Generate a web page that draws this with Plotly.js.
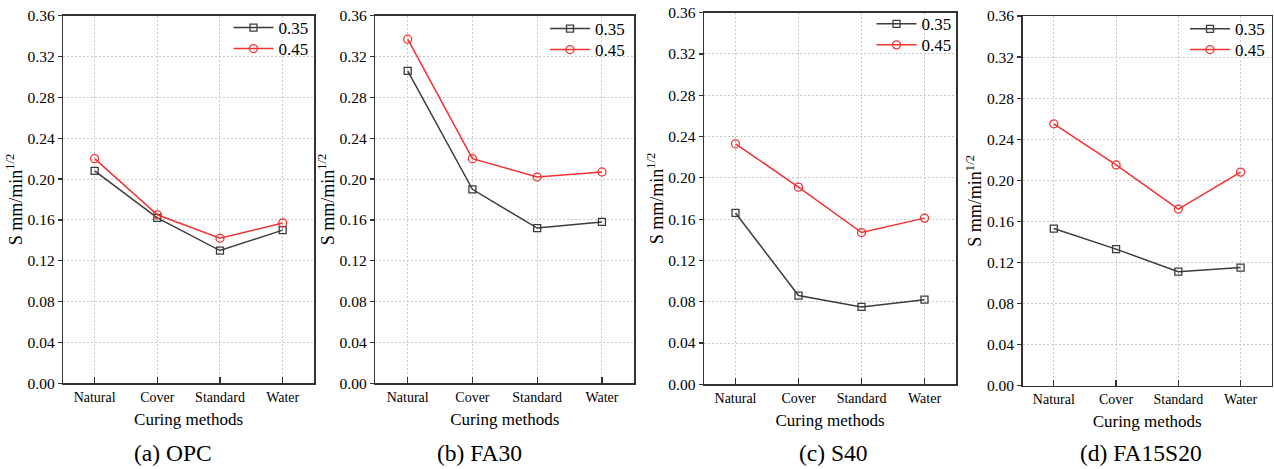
<!DOCTYPE html>
<html>
<head>
<meta charset="utf-8">
<script src="https://cdn.plot.ly/plotly-3.0.1.min.js"></script>
<style>html,body{margin:0;padding:0;background:#fff;}#chart{width:1274px;height:469px;}</style>
</head>
<body>
<div id="chart"></div>
<script>
const categories = ["Natural", "Cover", "Standard", "Water"];
const seriesNames = ["0.35", "0.45"];
const panelTitles = ["(a) OPC", "(b) FA30", "(c) S40", "(d) FA15S20"];
const yTickVals = [0, 0.04, 0.08, 0.12, 0.16, 0.20, 0.24, 0.28, 0.32, 0.36];
const yTickText = ["0.00", "0.04", "0.08", "0.12", "0.16", "0.20", "0.24", "0.28", "0.32", "0.36"];

const opc_035 = [0.208, 0.162, 0.130, 0.150];
const opc_045 = [0.220, 0.165, 0.142, 0.157];
const fa30_035 = [0.306, 0.190, 0.152, 0.158];
const fa30_045 = [0.337, 0.220, 0.202, 0.207];
const s40_035 = [0.166, 0.086, 0.075, 0.082];
const s40_045 = [0.233, 0.191, 0.147, 0.161];
const fa15s20_035 = [0.153, 0.133, 0.111, 0.115];
const fa15s20_045 = [0.255, 0.215, 0.172, 0.208];

const panels = [[opc_035, opc_045], [fa30_035, fa30_045], [s40_035, s40_045], [fa15s20_035, fa15s20_045]];

const W = 1274, H = 469;
// pixel boxes [left, right, top, bottom]
const boxes = [[63.3, 314, 15.7, 383.3], [375.3, 634.3, 15.7, 383.3], [704, 956, 12.7, 384.3], [1022.7, 1271.7, 16, 385.7]];
const captionX = [173, 479, 833, 1141];
const legendRight = [313.5, 630, 956.5, 1270];
const legendRowY = [[28, 49], [29, 50], [24.3, 45.3], [29.3, 50]];

const FONT = "Liberation Serif";
const colors = ["#3c3c3c", "#f03232"];
const symbols = ["square-open", "circle-open"];
const msize = [7, 8];

const traces = [];
const layout = {
  width: W, height: H,
  margin: {l: 0, r: 0, t: 0, b: 0},
  paper_bgcolor: "#fff", plot_bgcolor: "#fff",
  font: {family: FONT, color: "#000"},
  showlegend: true,
  annotations: []
};

panels.forEach((pair, i) => {
  const n = i === 0 ? "" : String(i + 1);
  const xa = "x" + n, ya = "y" + n;
  pair.forEach((vals, j) => {
    const k = i * 2 + j + 1;
    const legendId = k === 1 ? "legend" : "legend" + k;
    traces.push({
      type: "scatter", mode: "lines+markers",
      x: categories, y: vals, name: seriesNames[j],
      xaxis: xa, yaxis: ya, legend: legendId,
      line: {color: colors[j], width: 1.5},
      marker: {symbol: symbols[j], size: msize[j], color: colors[j], line: {width: 1.3, color: colors[j]}},
      cliponaxis: false
    });
    layout[legendId] = {
      x: legendRight[i] / W, xanchor: "right",
      y: 1 - legendRowY[i][j] / H, yanchor: "middle",
      bgcolor: "rgba(0,0,0,0)", borderwidth: 0,
      font: {family: FONT, size: 17, color: "#000"},
      itemwidth: 40
    };
  });
  const b = boxes[i];
  layout["xaxis" + n] = {
    domain: [b[0] / W, b[1] / W], anchor: ya,
    type: "category", range: [-0.5, 3.5],
    showline: true, linecolor: "#333", linewidth: 1.5, mirror: true,
    ticks: "inside", ticklen: 6, tickwidth: 1.2, tickcolor: "#333",
    showgrid: true, gridcolor: "#c8c8c8", griddash: "2px,2px", gridwidth: 1,
    tickfont: {family: FONT, size: 14, color: "#000"},
    title: {text: "Curing methods", font: {family: FONT, size: 17, color: "#000"}, standoff: 9},
    automargin: false, zeroline: false, fixedrange: true
  };
  layout["yaxis" + n] = {
    domain: [1 - b[3] / H, 1 - b[2] / H], anchor: xa,
    range: [0, 0.36], tickvals: yTickVals, ticktext: yTickText,
    showline: true, linecolor: "#333", linewidth: 1.5, mirror: true,
    ticks: "outside", ticklen: 4, tickwidth: 1.2, tickcolor: "#333",
    showgrid: true, gridcolor: "#c8c8c8", griddash: "2px,2px", gridwidth: 1,
    tickfont: {family: FONT, size: 15.5, color: "#000"},
    title: {text: "S mm/min<sup>1/2</sup>", font: {family: FONT, size: 18, color: "#000"}, standoff: 0},
    automargin: false, zeroline: false, fixedrange: true
  };
  layout.annotations.push({
    text: panelTitles[i], x: captionX[i] / W, y: 1 - 453 / H,
    xref: "paper", yref: "paper", xanchor: "center", yanchor: "middle",
    showarrow: false, font: {family: FONT, size: 23.5, color: "#000"}
  });
});

Plotly.newPlot("chart", traces, layout, {displayModeBar: false, staticPlot: true});
</script>
</body>
</html>
